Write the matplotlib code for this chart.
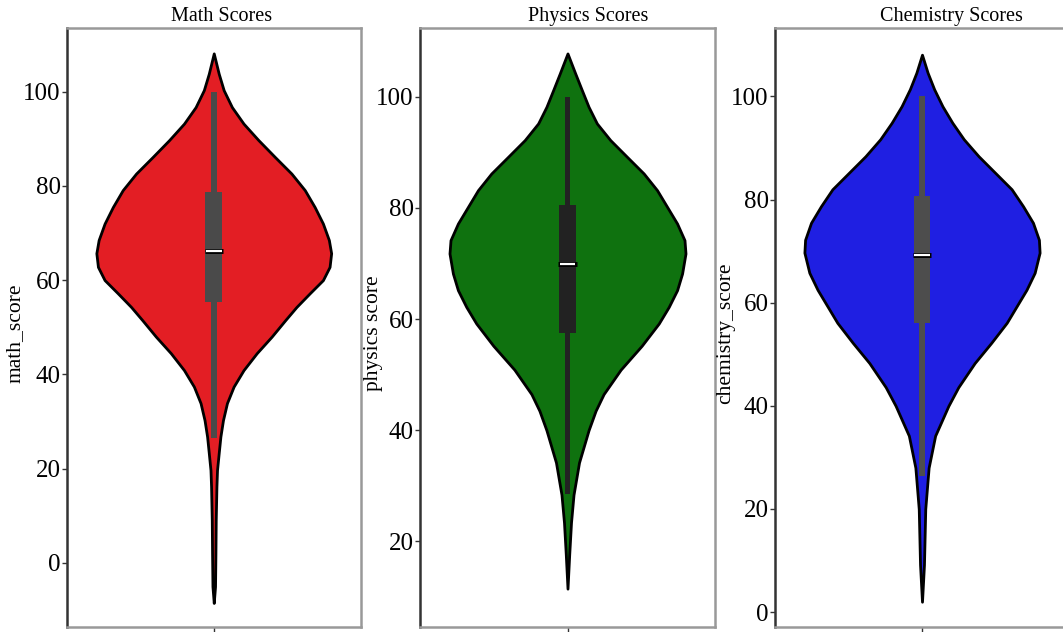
import numpy as np
import matplotlib
matplotlib.use("Agg")
import matplotlib.pyplot as plt

plt.rcParams['font.family'] = ['Liberation Serif', 'DejaVu Serif']

# violin outlines: score level and half width (px at full width)
math_y = [108.1, 103.8, 100.3, 96.7, 93.2, 89.7, 86.1, 82.6, 79.1, 75.5, 72, 68.5,
          65.7, 62.8, 60, 57.2, 54.3, 51.5, 48, 44.5, 40.9, 37.4, 33.9, 30.3,
          26.8, 23.3, 19.7, 16.2, 9.1, 2, -5, -8.5]
math_w = [0, 5, 10, 18.3, 30, 45, 61.7, 78.3, 91.7, 101.7, 110, 116,
          118.3, 116.7, 110, 96.7, 83.3, 72, 58.3, 43.3, 30, 20, 13.3, 9.3,
          6.7, 5, 3.3, 2.7, 2, 1.7, 1.3, 0]

phys_y = [107.8, 104.2, 101.2, 98.2, 95.2, 92.2, 89.2, 86.2, 83.2, 80.2, 77.2, 74.2,
          71.8, 68.2, 65.2, 62.2, 59.2, 55.2, 50.9, 46.5, 43.5, 40, 34.2, 28.4, 23.4,
          17.6, 11.5]
phys_w = [0, 7.7, 14.3, 21, 29.3, 42.7, 59.3, 76, 89.3, 99.3, 109.3, 116.7,
          117.7, 114.3, 109.3, 101, 91, 74, 53, 36, 28, 21, 11.5, 6, 3.5,
          1.7, 0]

chem_y = [108.1, 104.6, 101.4, 98.1, 94.9, 91.7, 88.4, 85.2, 82, 78.7, 75.5, 72.2,
          69.7, 65.8, 62.5, 59.3, 56.1, 52.2, 48.3, 43.6, 40, 34.2, 28, 20,
          9.2, 2]
chem_w = [0, 5.7, 12.3, 20.7, 30.7, 42.3, 57.3, 74, 90.7, 102.3, 112.3, 118.3,
          119, 114, 105.7, 95.7, 85.7, 70, 53.3, 36.7, 26.7, 13.3, 6.7, 3.3,
          2, 0]

# box stats: whisker low, q1, median, q3, whisker high
math_box = [26.4, 55.4, 66.1, 78.6, 100]
phys_box = [28.5, 57.5, 70.0, 80.5, 100]
chem_box = [26.4, 56.1, 69.2, 80.7, 100]

titles = ["Math Scores", "Physics Scores", "Chemistry Scores"]
ylabels = ["math_score", "physics score", "chemistry_score"]
colors = ["#e31e24", "#0f720f", "#1f1fe2"]
box_colors = ["#4a4a4a", "#222222", "#4d4d4d"]
ylims = [(-13.6, 113.4), (4.6, 112.3), (-2.9, 113.2)]
yticks = [[0, 20, 40, 60, 80, 100], [20, 40, 60, 80, 100], [0, 20, 40, 60, 80, 100]]
title_x = [0.525, 0.57, 0.60]
label_x = [-0.146, -0.125, -0.136]

profiles = [(math_y, math_w), (phys_y, phys_w), (chem_y, chem_w)]
boxes = [math_box, phys_box, chem_box]

W, H = 1063, 632
fig = plt.figure(figsize=(W / 100, H / 100), dpi=100)
lefts = [67, 420, 775]
widths = [293.5, 295, 294]
top, bottom = 28.4, 627

for i in range(3):
    ax = fig.add_axes([lefts[i] / W, (H - bottom) / H, widths[i] / W, (bottom - top) / H])
    y, w = profiles[i]
    y = np.array(y)
    w = np.array(w, dtype=float)
    w = w / w.max() * 0.4
    ax.fill_betweenx(y, -w, w, facecolor=colors[i], edgecolor='black',
                     linewidth=2.0, joinstyle='round', zorder=2)

    lo, q1, med, q3, hi = boxes[i]
    ax.bar(0, hi - lo, bottom=lo, width=0.019, color=box_colors[i], zorder=3)
    ax.bar(0, q3 - q1, bottom=q1, width=0.057, color=box_colors[i], zorder=4)
    ax.plot([-0.031, 0.031], [med, med], color='black', linewidth=3.6,
            solid_capstyle='butt', zorder=5)
    ax.plot([-0.027, 0.027], [med, med], color='white', linewidth=1.6,
            solid_capstyle='butt', zorder=6)

    ax.set_xlim(-0.5, 0.5)
    ax.set_ylim(*ylims[i])
    ax.set_xticks([0])
    ax.set_xticklabels([""])
    ax.set_yticks(yticks[i])
    ax.tick_params(axis='y', labelsize=18, length=3.5, width=1, pad=1, color='#333333')
    ax.tick_params(axis='x', length=4, width=1, color='#333333')
    ax.set_ylabel(ylabels[i], fontsize=15.5)
    ax.yaxis.set_label_coords(label_x[i], 0.49)
    ax.set_title(titles[i], fontsize=14.5, x=title_x[i], pad=5)

    for side in ['top', 'right', 'bottom']:
        ax.spines[side].set_color('#999999')
        ax.spines[side].set_linewidth(1.8)
    ax.spines['left'].set_color('#333333')
    ax.spines['left'].set_linewidth(1.8)

fig.savefig("out.png", dpi=100)
